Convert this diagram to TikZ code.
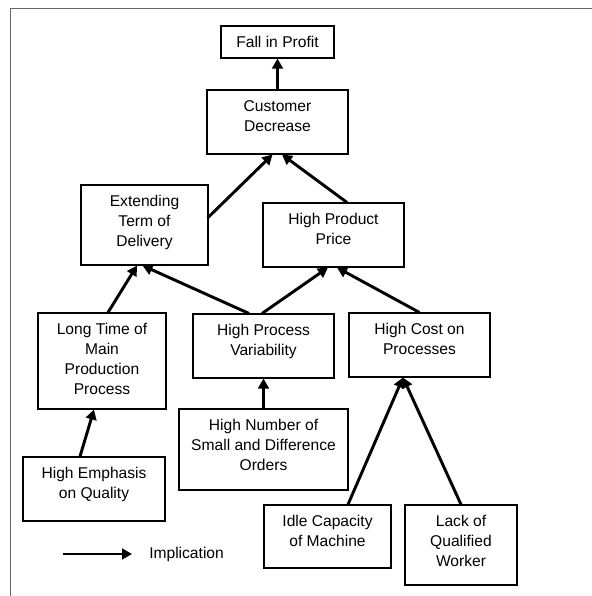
\documentclass[tikz,border=0pt]{standalone}
\usepackage{fontspec}
\setmainfont{Liberation Sans}
\usetikzlibrary{arrows.meta}
\begin{document}
\begin{tikzpicture}[x=0.75pt,y=-0.75pt,
  bx/.style 2 args={draw=black, line width=0.8pt, minimum width=#1*0.75pt,
    minimum height=#2*0.75pt, inner sep=0pt},
  txt/.style={anchor=north, align=center, inner sep=0pt,
    font=\fontsize{11.7}{15}\selectfont},
  imp/.style={line width=2.2pt, -{Triangle[length=7.5pt,width=8pt]}},
  frame/.style={draw=black!60, line width=1.2pt}]
\useasboundingbox (0,0) rectangle (592,596);
% open frame along the left and top
\draw[frame] (10.5,596) -- (10.5,8.5) -- (592,8.5);

% boxes
\node[bx={113}{32}]  (fall) at (277.5,42)  {};
\node[bx={141}{64}]  (cust) at (277.5,122) {};
\node[bx={127}{80}]  (ext)  at (144.5,225) {};
\node[bx={141}{64}]  (hpp)  at (333.5,235) {};
\node[bx={128}{96}]  (ltm)  at (102,361)   {};
\node[bx={141}{64}]  (hpv)  at (263.5,346) {};
\node[bx={141}{64}]  (hcp)  at (419.5,345) {};
\node[bx={169}{81}]  (hno)  at (263.5,449.5) {};
\node[bx={142}{64}]  (hem)  at (94,489)    {};
\node[bx={127}{63}]  (idle) at (327.5,536.5) {};
\node[bx={112}{80}]  (lack) at (461,545)   {};

% box texts, set from the top of each box
\node[txt] (fall-t) at ([yshift=-8.2pt]fall.north) {Fall in Profit};
\node[txt] (cust-t) at ([yshift=-8.2pt]cust.north) {Customer\\Decrease};
\node[txt] (ext-t)  at ([yshift=-8.2pt]ext.north)  {Extending\\Term of\\Delivery};
\node[txt] (hpp-t)  at ([yshift=-8.2pt]hpp.north)  {High Product\\Price};
\node[txt] (ltm-t)  at ([yshift=-8.2pt]ltm.north)  {Long Time of\\Main\\Production\\Process};
\node[txt] (hpv-t)  at ([yshift=-8.2pt]hpv.north)  {High Process\\Variability};
\node[txt] (hcp-t)  at ([yshift=-8.2pt]hcp.north)  {High Cost on\\Processes};
\node[txt] (hno-t)  at ([yshift=-8.2pt]hno.north)  {High Number of\\Small and Difference\\Orders};
\node[txt] (hem-t)  at ([yshift=-8.2pt]hem.north)  {High Emphasis\\on Quality};
\node[txt] (idle-t) at ([yshift=-8.2pt]idle.north) {Idle Capacity\\of Machine};
\node[txt] (lack-t) at ([yshift=-8.2pt]lack.north) {Lack of\\Qualified\\Worker};

% implications
\draw[imp] (cust.north) -- (fall.south);
\draw[imp] ([shift={(-1,-7)}]ext.east) -- ([shift={(-5,0)}]cust.south);
\draw[imp] ([shift={(13.5,0)}]hpp.north) -- ([shift={(4.5,0)}]cust.south);
\draw[imp] ([shift={(6,0)}]ltm.north) -- ([shift={(-7.5,0)}]ext.south);
\draw[imp] ([shift={(-14.5,0)}]hpv.north) -- ([shift={(-2,0)}]ext.south);
\draw[imp] ([shift={(-1.5,0)}]hpv.north) -- ([shift={(-5.5,0)}]hpp.south);
\draw[imp] (hcp.north) -- ([shift={(3.5,0)}]hpp.south);
\draw[imp] (hno.north) -- (hpv.south);
\draw[imp] ([shift={(-14,0)}]hem.north) -- ([shift={(-8,0)}]ltm.south);
\draw[imp] ([shift={(20.5,0)}]idle.north) -- ([shift={(-16.5,0)}]hcp.south);
\draw[imp] (lack.north) -- ([shift={(-16.5,0)}]hcp.south);

% legend
\coordinate (lg-a) at (63,554);
\coordinate (lg-b) at (132,554);
\draw[imp] (lg-a) -- (lg-b);
\node[anchor=west, inner sep=0pt, font=\fontsize{11.7}{15}\selectfont] (lg-t) at (149,554) {Implication};
\end{tikzpicture}
\end{document}
